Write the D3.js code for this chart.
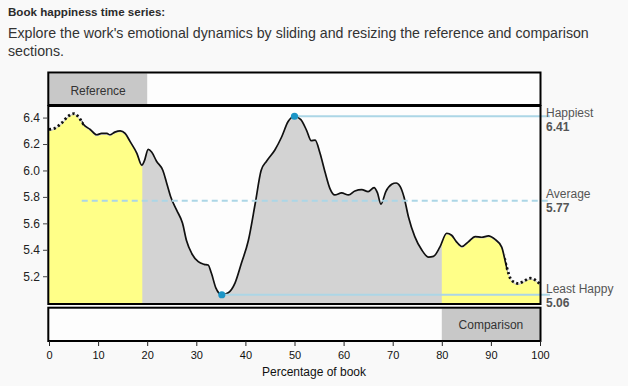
<!DOCTYPE html>
<html>
<head>
<meta charset="utf-8">
<script src="https://cdn.jsdelivr.net/npm/d3@7"></script>
<style>
  body { margin: 0; background: #f9f9f9; }
  svg { display: block; font-family: Helvetica, Arial, "Liberation Sans", sans-serif; }
</style>
</head>
<body>
<div id="chart"></div>
<script>
// happiness readings along the book (percent of book -> score)
const pct = [0, 1.2, 2.6, 3.9, 5.1, 6.3, 7.0, 8.4, 9.7, 10.7,
  11.8, 12.4, 13.4, 14.5, 15.5, 16.5, 17.9, 18.9, 19.4, 20.2,
  20.9, 21.9, 23.2, 24.0, 24.8, 26.0, 27.2, 28.0, 29.1, 30.4,
  31.6, 32.4, 33.1, 34.0, 35.2, 36.5, 37.9, 39.2, 40.6, 42.0,
  43.2, 44.3, 46.0, 47.4, 48.7, 50.0, 51.3, 52.5, 53.4, 54.2,
  55.2, 56.2, 57.2, 58.2, 59.6, 61.0, 62.3, 63.7, 65.0, 66.2,
  66.9, 67.6, 68.6, 69.8, 70.7, 71.5, 72.3, 73.2, 74.5, 75.9,
  77.3, 78.3, 79.6, 81.0, 82.0, 83.0, 84.1, 85.4, 86.8, 88.1,
  89.5, 90.8, 92.2, 93.2, 94.2, 95.6, 96.6, 98.0, 99.3, 100];
const happiness = [6.31, 6.32, 6.36, 6.41, 6.43, 6.39, 6.35, 6.31, 6.27, 6.28,
  6.28, 6.27, 6.29, 6.30, 6.28, 6.22, 6.13, 6.04, 6.07, 6.16,
  6.14, 6.07, 6.00, 5.90, 5.80, 5.70, 5.60, 5.47, 5.37, 5.31,
  5.29, 5.285, 5.22, 5.11, 5.06, 5.075, 5.15, 5.30, 5.47, 5.75,
  6.00, 6.07, 6.155, 6.255, 6.37, 6.41, 6.385, 6.30, 6.225, 6.23,
  6.13, 5.99, 5.865, 5.815, 5.83, 5.815, 5.845, 5.855, 5.84, 5.87,
  5.83, 5.745, 5.84, 5.895, 5.905, 5.88, 5.80, 5.65, 5.50, 5.40,
  5.345, 5.35, 5.42, 5.525, 5.51, 5.46, 5.425, 5.46, 5.50, 5.495,
  5.505, 5.48, 5.42, 5.27, 5.17, 5.145, 5.16, 5.185, 5.165, 5.14];

const xTicks = [0, 10, 20, 30, 40, 50, 60, 70, 80, 90, 100];
const yTicks = [5.2, 5.4, 5.6, 5.8, 6.0, 6.2, 6.4];

const markerNames = ["Happiest", "Average", "Least Happy"];
const markerValues = [6.41, 5.77, 5.06];
const markerPct = [50, 6.67, 35.2];

const referenceBrush = [0, 20];
const referenceFill = [0, 19];
const comparisonBrush = [80, 100];
const edgeWindow = 6.67; // dotted part at each end

const data = pct.map((p, i) => ({ p: p, v: happiness[i] }));

const width = 628;
const height = 386;

const yellow = "#ffff88";
const areaGray = "#d3d3d3";
const brushGray = "#c8c8c8";
const blueLine = "#acd6e6";
const blueDot = "#1c95c6";

// label nudges so the side labels sit like the original
const labelShift = [1, -3, -2];

const svg = d3.select("#chart").append("svg")
  .attr("width", width)
  .attr("height", height);

// heading
svg.append("text")
  .attr("x", 8).attr("y", 16)
  .style("font-size", "11.6px").style("font-weight", "bold")
  .attr("fill", "#2b2b2b")
  .text("Book happiness time series:");
svg.append("text")
  .attr("x", 8).attr("y", 37.5)
  .style("font-size", "14.2px").attr("fill", "#333")
  .text("Explore the work's emotional dynamics by sliding and resizing the reference and comparison");
svg.append("text")
  .attr("x", 8).attr("y", 56)
  .style("font-size", "14.2px").attr("fill", "#333")
  .text("sections.");

// scales
const x = d3.scaleLinear().domain([0, 100]).range([49, 540]);
const y = d3.scaleLinear().domain([4.99, 6.48]).range([304, 107]);

const chartTop = 106, chartBottom = 304;

// box backgrounds
svg.append("rect").attr("x", 48).attr("y", 72.5).attr("width", 492.5).attr("height", 32.5).attr("fill", "#fdfdfd");
svg.append("rect").attr("x", 48).attr("y", chartTop).attr("width", 492.5).attr("height", chartBottom - chartTop).attr("fill", "#fdfdfd");
svg.append("rect").attr("x", 48).attr("y", 307.7).attr("width", 492.5).attr("height", 33.3).attr("fill", "#fdfdfd");

// clips
const defs = svg.append("defs");
function addClip(id, x0, x1) {
  defs.append("clipPath").attr("id", id)
    .append("rect")
    .attr("x", x0).attr("y", chartTop)
    .attr("width", x1 - x0).attr("height", chartBottom - chartTop);
}
addClip("clip-all", x(0), x(100));
addClip("clip-ref", x(referenceFill[0]), x(referenceFill[1]));
addClip("clip-comp", x(comparisonBrush[0]), x(comparisonBrush[1]));
addClip("clip-mid", x(edgeWindow), x(100 - edgeWindow));
defs.append("clipPath").attr("id", "clip-ends")
  .selectAll("rect")
  .data([[0, edgeWindow], [100 - edgeWindow, 100]])
  .join("rect")
  .attr("x", (d) => x(d[0]) - 2).attr("y", chartTop - 4)
  .attr("width", (d) => x(d[1]) - x(d[0]) + 4).attr("height", chartBottom - chartTop + 4);

const curve = d3.curveMonotoneX;

const area = d3.area()
  .x((d) => x(d.p))
  .y0(chartBottom)
  .y1((d) => y(d.v))
  .curve(curve);

const yellowArea = d3.area()
  .x((d) => x(d.p))
  .y0(chartBottom)
  .y1((d) => y(d.v) + 1.5)
  .curve(curve);

const line = d3.line()
  .x((d) => x(d.p))
  .y((d) => y(d.v))
  .curve(curve);

svg.append("path").datum(data)
  .attr("d", area).attr("fill", areaGray)
  .attr("clip-path", "url(#clip-all)");

svg.append("path").datum(data)
  .attr("d", yellowArea).attr("fill", yellow)
  .attr("clip-path", "url(#clip-ref)");
svg.append("path").datum(data)
  .attr("d", yellowArea).attr("fill", yellow)
  .attr("clip-path", "url(#clip-comp)");

svg.append("path").datum(data)
  .attr("d", line).attr("fill", "none")
  .attr("stroke", "#111").attr("stroke-width", 1.7)
  .attr("clip-path", "url(#clip-mid)");
svg.append("path").datum(data)
  .attr("d", line).attr("fill", "none")
  .attr("stroke", "#111").attr("stroke-width", 2.8)
  .attr("stroke-dasharray", "2.2,2.6")
  .attr("clip-path", "url(#clip-ends)");

// marker lines and labels
const lineEnd = 550;
markerNames.forEach((name, i) => {
  const ly = y(markerValues[i]);
  svg.append("line")
    .attr("x1", x(markerPct[i])).attr("x2", lineEnd)
    .attr("y1", ly).attr("y2", ly)
    .attr("stroke", blueLine).attr("stroke-width", 2)
    .attr("stroke-dasharray", name === "Average" ? "6,4" : null);
  svg.append("text")
    .attr("x", 546).attr("y", ly + labelShift[i])
    .style("font-size", "12px").attr("fill", "#555")
    .text(name);
  svg.append("text")
    .attr("x", 546).attr("y", ly + labelShift[i] + 14)
    .style("font-size", "12px").style("font-weight", "bold").attr("fill", "#555")
    .text(markerValues[i].toFixed(2));
});

// dots on the extremes
svg.selectAll(".dot")
  .data([0, 2])
  .join("circle")
  .attr("class", "dot")
  .attr("cx", (i) => x(markerPct[i]))
  .attr("cy", (i) => y(markerValues[i]))
  .attr("r", 3.6)
  .attr("fill", blueDot);

// brushes
svg.append("rect")
  .attr("x", x(referenceBrush[0])).attr("y", 73.5)
  .attr("width", x(referenceBrush[1]) - x(referenceBrush[0])).attr("height", 31)
  .attr("fill", brushGray);
svg.append("text")
  .attr("x", (x(referenceBrush[0]) + x(referenceBrush[1])) / 2).attr("y", 94.5)
  .attr("text-anchor", "middle")
  .style("font-size", "12px").attr("fill", "#333")
  .text("Reference");

svg.append("rect")
  .attr("x", x(comparisonBrush[0])).attr("y", 308.7)
  .attr("width", x(comparisonBrush[1]) - x(comparisonBrush[0])).attr("height", 31.3)
  .attr("fill", brushGray);
svg.append("text")
  .attr("x", (x(comparisonBrush[0]) + x(comparisonBrush[1])) / 2).attr("y", 329)
  .attr("text-anchor", "middle")
  .style("font-size", "12px").attr("fill", "#333")
  .text("Comparison");

// borders
[[72.5, 105], [chartTop, chartBottom], [307.7, 341]].forEach((b) => {
  svg.append("rect")
    .attr("x", 48.3).attr("y", b[0])
    .attr("width", 492.2).attr("height", b[1] - b[0])
    .attr("fill", "none").attr("stroke", "#000").attr("stroke-width", 2);
});

// axes
const yAxis = svg.append("g")
  .attr("transform", "translate(48,0)")
  .call(d3.axisLeft(y).tickValues(yTicks).tickFormat(d3.format(".1f")).tickSize(5).tickPadding(3));
yAxis.select(".domain").remove();
yAxis.selectAll("text").style("font-size", "12px").attr("fill", "#222");
yAxis.selectAll("line").attr("stroke", "#444");

const xAxis = svg.append("g")
  .attr("transform", "translate(0,341)")
  .call(d3.axisBottom(x).tickValues(xTicks).tickSize(5).tickPadding(5));
xAxis.select(".domain").remove();
xAxis.selectAll("text").style("font-size", "11px").attr("fill", "#111");
xAxis.selectAll("line").attr("stroke", "#222");

svg.append("text")
  .attr("x", width / 2).attr("y", 376)
  .attr("text-anchor", "middle")
  .style("font-size", "12px").attr("fill", "#111")
  .text("Percentage of book");
</script>
</body>
</html>
